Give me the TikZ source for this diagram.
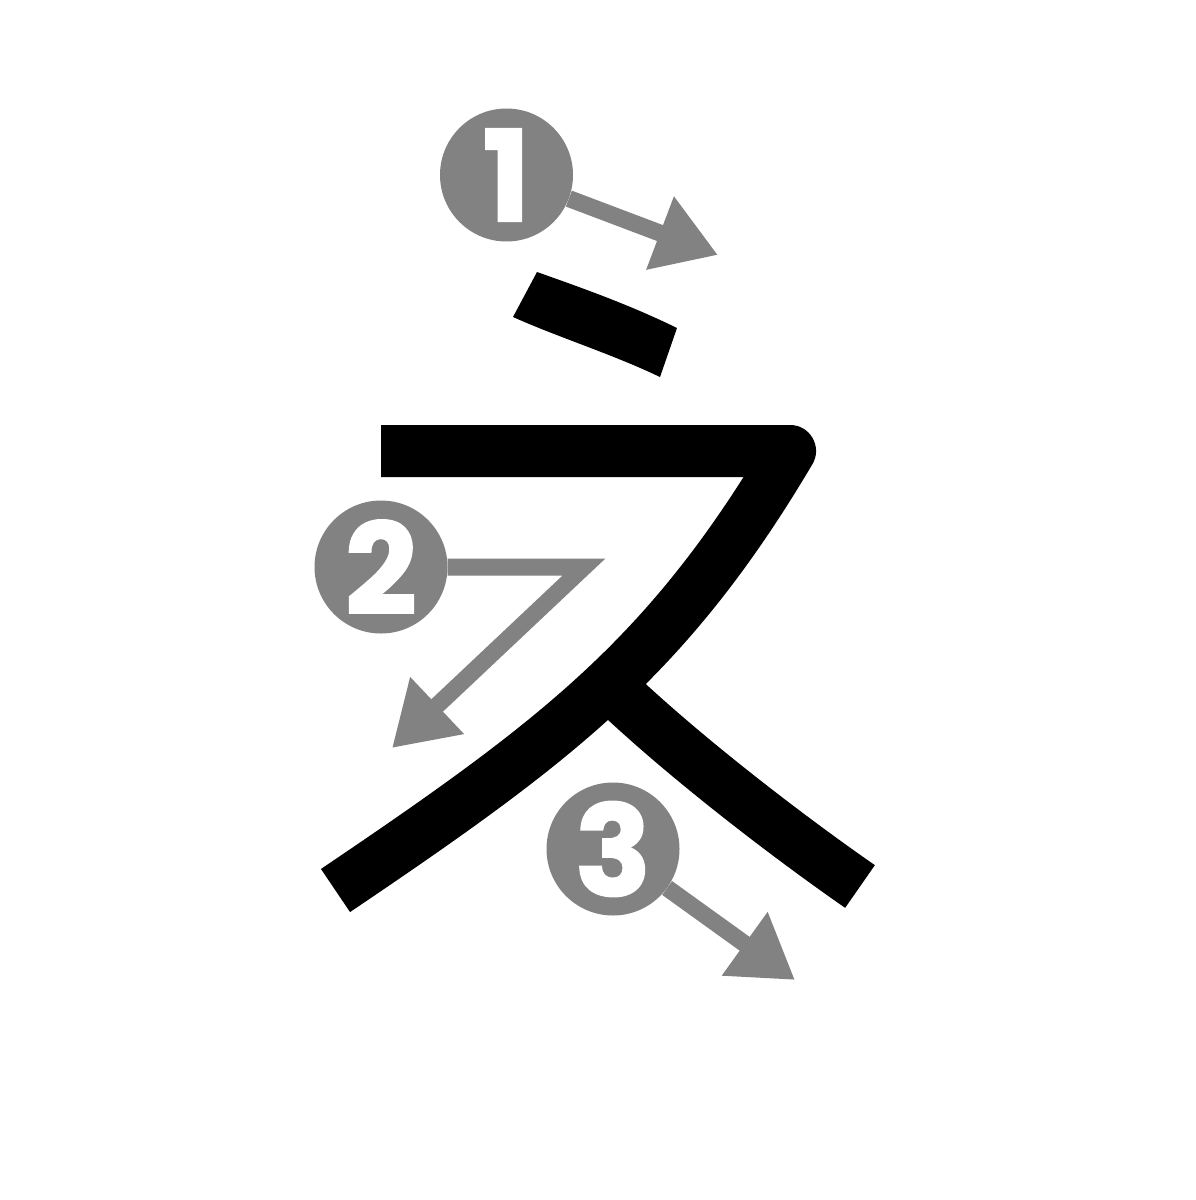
\documentclass[tikz,border=0pt]{standalone}
\usepackage{fontspec}
\setmainfont{Poppins}
\newfontfamily\numfont{Poppins}[BoldFeatures={FakeBold=1.6}]
\usetikzlibrary{arrows.meta}
\definecolor{ordergray}{RGB}{130,130,130}
\begin{document}
\begin{tikzpicture}[x=1pt,y=-1pt,
  kana/.style={line width=52pt, line cap=butt, line join=round},
  numcircle/.style={circle, fill=ordergray, minimum size=133pt, inner sep=0pt,
    text=white, font=\fontsize{126}{126}\numfont\bfseries},
  orderarrow/.style={draw=ordergray, line width=17pt, line join=miter,
    -{Triangle[length=62pt,width=74pt]}}
]
\useasboundingbox (0,0) rectangle (1195,1200);
\fill[white] (0,0) rectangle (1195,1200);

% stroke 1
\fill[black] (537,272) .. controls (585,289) and (630,305) .. (677,328)
  -- (660,377) .. controls (612,354) and (560,338) .. (513,317) -- cycle;
% stroke 2
\draw[kana] (381,451) -- (790,451) .. controls (668,657) and (557,741) .. (335.5,890.5);
% stroke 3
\draw[kana] (612,688) .. controls (681,754) and (783,833) .. (860,886.5);

% order markers
\coordinate (t1) at (718,255);
\coordinate (b2) at (584,567);
\coordinate (t2) at (392,748);
\coordinate (t3) at (795,980);

\node[numcircle] (c1) at (506.5,175) {1};
\node[numcircle] (c2) at (381,567) {2};
\node[numcircle] (c3) at (613,849) {3};

\draw[orderarrow] (c1) -- (t1);
\draw[orderarrow] (c2) -- (b2) -- (t2);
\draw[orderarrow] (c3) -- (t3);
\end{tikzpicture}
\end{document}
